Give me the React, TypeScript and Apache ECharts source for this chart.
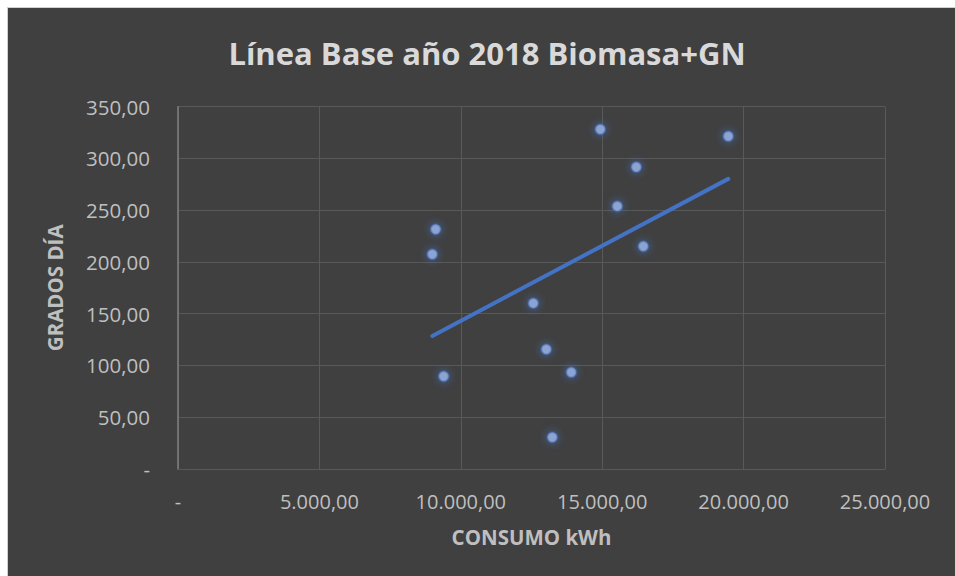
import React, { useEffect, useRef } from "react";
import * as echarts from "echarts";

const consumoKwh = [8993, 9112, 9395, 12564, 13024, 13236, 13907, 14933, 15534, 16206, 16454, 19459];
const gradosDia = [207.4, 231.5, 89.5, 160.1, 115.6, 30.6, 93.4, 328.1, 253.8, 291.7, 215.1, 321.4];

const titleText = "Línea Base año 2018 Biomasa+GN";
const xName = "CONSUMO kWh";
const yName = "GRADOS DÍA";

function fmt(v: number): string {
  if (v === 0) return "-";
  const fixed = v.toFixed(2);
  const [ip, dp] = fixed.split(".");
  const withSep = ip.replace(/\B(?=(\d{3})+(?!\d))/g, ".");
  return withSep + "," + dp;
}

function regression(xs: number[], ys: number[]) {
  const n = xs.length;
  const mx = xs.reduce((a, b) => a + b, 0) / n;
  const my = ys.reduce((a, b) => a + b, 0) / n;
  let sxy = 0;
  let sxx = 0;
  for (let i = 0; i < n; i++) {
    sxy += (xs[i] - mx) * (ys[i] - my);
    sxx += (xs[i] - mx) * (xs[i] - mx);
  }
  const slope = sxy / sxx;
  const intercept = my - slope * mx;
  const xmin = Math.min(...xs);
  const xmax = Math.max(...xs);
  return [
    [xmin, intercept + slope * xmin],
    [xmax, intercept + slope * xmax],
  ];
}

export default function App() {
  const ref = useRef<HTMLDivElement>(null);
  useEffect(() => {
    if (!ref.current) return;
    document.body.style.overflow = "hidden";
    const chart = echarts.init(ref.current, undefined, { renderer: "svg" });
    const points = consumoKwh.map((x, i) => [x, gradosDia[i]]);
    const trend = regression(consumoKwh, gradosDia);
    const labelFont = "'Open Sans', sans-serif";
    chart.setOption({
      animation: false,
      backgroundColor: "#ffffff",
      graphic: [
        {
          type: "rect",
          z: -10,
          shape: { x: 7.5, y: 7.5, width: 960, height: 580 },
          style: { fill: "#404040", stroke: "#d0d0d0", lineWidth: 1 },
          silent: true,
        },
        {
          type: "text",
          x: 487,
          y: 53,
          style: {
            text: titleText,
            fill: "#d9d9d9",
            font: "bold 31px 'Open Sans', sans-serif",
            align: "center",
            verticalAlign: "middle",
          },
        },
      ],
      grid: { left: 178, right: 70, top: 106.7, bottom: 107, containLabel: false },
      xAxis: {
        type: "value",
        min: 0,
        max: 25000,
        interval: 5000,
        name: xName,
        nameLocation: "middle",
        nameGap: 57,
        nameTextStyle: { color: "#bfbfbf", fontFamily: labelFont, fontWeight: "bold", fontSize: 20.5 },
        axisLine: { show: true, lineStyle: { color: "#595959", width: 1 } },
        axisTick: { show: false },
        splitLine: { show: true, lineStyle: { color: "#595959", width: 1 } },
        axisLabel: {
          color: "#bfbfbf",
          fontFamily: labelFont,
          fontSize: 20,
          margin: 22,
          formatter: (v: number) => fmt(v),
        },
      },
      yAxis: {
        type: "value",
        min: 0,
        max: 350,
        interval: 50,
        name: yName,
        nameLocation: "middle",
        nameGap: 113,
        nameRotate: 90,
        nameTextStyle: { color: "#bfbfbf", fontFamily: labelFont, fontWeight: "bold", fontSize: 20.5 },
        axisLine: { show: true, lineStyle: { color: "#7f7f7f", width: 1.5 } },
        axisTick: { show: false },
        splitLine: { show: true, lineStyle: { color: "#595959", width: 1 } },
        axisLabel: {
          color: "#bfbfbf",
          fontFamily: labelFont,
          fontSize: 20.5,
          margin: 28,
          formatter: (v: number) => fmt(v),
        },
      },
      series: [
        {
          type: "line",
          data: trend,
          symbol: "none",
          lineStyle: { color: "#4472C4", width: 4, cap: "round" },
          z: 2,
          silent: true,
        },
        {
          type: "scatter",
          data: points,
          symbol: "circle",
          symbolSize: 10,
          itemStyle: {
            color: "#9DB6E8",
            borderColor: "rgba(68,114,196,0.55)",
            borderWidth: 2,
            shadowColor: "rgba(68,114,196,0.9)",
            shadowBlur: 8,
          },
          z: 3,
        },
      ],
    });
    return () => chart.dispose();
  }, []);
  return (
    <div
      ref={ref}
      style={{ position: "fixed", left: 0, top: 0, width: 955, height: 576 }}
    />
  );
}
